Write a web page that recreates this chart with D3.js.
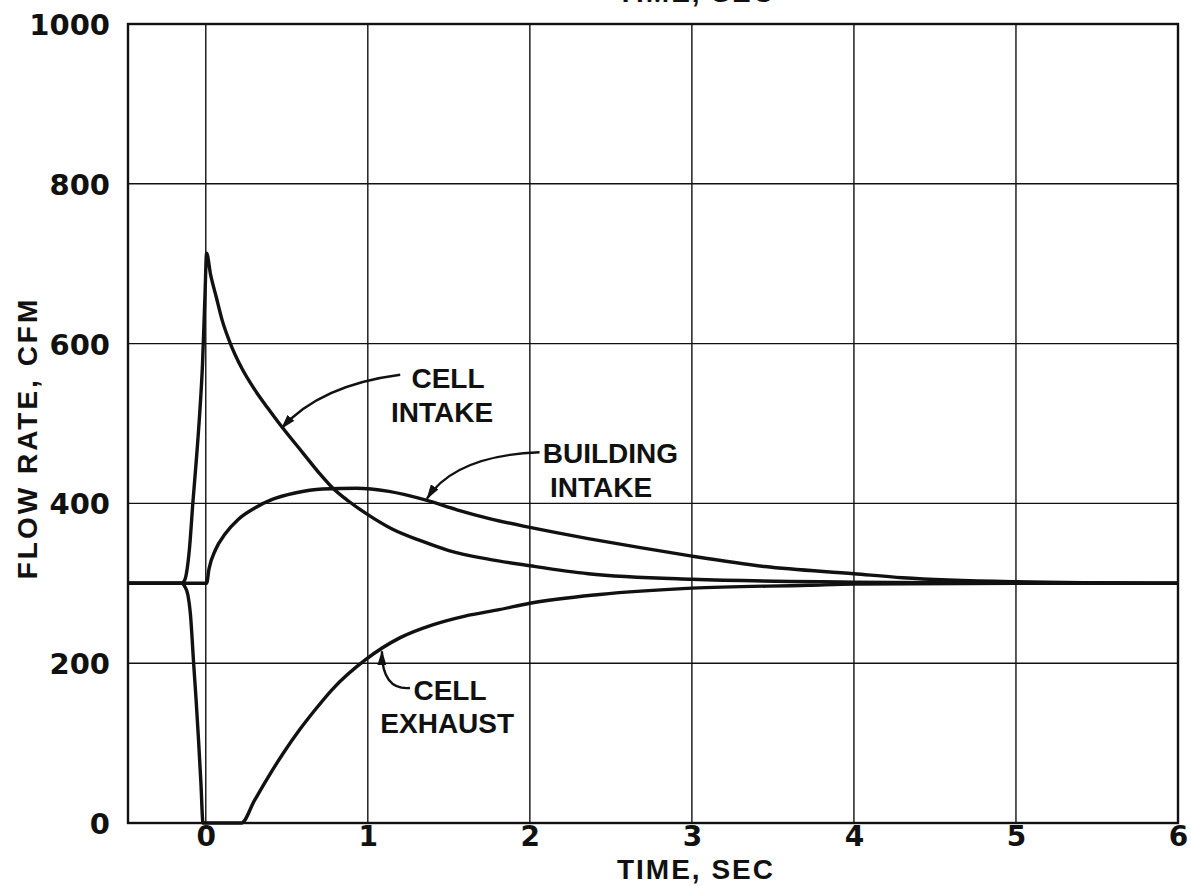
<!DOCTYPE html>
<html>
<head>
<meta charset="utf-8">
<script src="https://cdn.jsdelivr.net/npm/d3@7"></script>
<style>
  html, body { margin: 0; padding: 0; background: #fff; overflow: hidden; }
  text { font-family: 'Liberation Sans', Arial, sans-serif; font-weight: bold; fill: #111; }
  .tick text { font-family: 'DejaVu Sans', sans-serif; }
</style>
</head>
<body>
<div id="chartwrap"></div>
<script>
const WIDTH = 1191;
const HEIGHT = 886;

// data: [time (sec), flow rate (cfm)]
const cellIntake = [
  [-0.48, 300], [-0.3, 300], [-0.15, 300], [-0.13, 304], [-0.115, 318], [-0.1, 345],
  [-0.08, 400], [-0.06, 450], [-0.04, 505], [-0.02, 575], [-0.005, 660], [0.005, 713],
  [0.03, 686], [0.065, 658], [0.1, 630], [0.15, 601], [0.22, 570], [0.3, 543],
  [0.38, 520], [0.45, 501], [0.6, 463], [0.7, 438], [0.78, 420], [0.88, 403],
  [1.0, 386], [1.15, 368], [1.33, 353], [1.5, 341], [1.75, 330], [2.0, 322],
  [2.36, 312], [3.0, 305], [4.0, 301.5], [5.0, 300], [6.0, 300]
];

const buildingIntake = [
  [-0.48, 300], [0.005, 300], [0.02, 318], [0.06, 342], [0.12, 362], [0.2, 380],
  [0.3, 394], [0.41, 405], [0.55, 413], [0.72, 418], [0.93, 419], [1.13, 415],
  [1.36, 404], [1.55, 392], [1.75, 381], [2.0, 370], [2.36, 356], [2.7, 344],
  [3.0, 334], [3.45, 321], [4.0, 312], [4.3, 307], [5.0, 302], [6.0, 300]
];

const cellExhaust = [
  [-0.48, 300], [-0.15, 300], [-0.13, 296], [-0.11, 285], [-0.095, 262], [-0.075, 200],
  [-0.06, 155], [-0.045, 105], [-0.03, 50], [-0.017, 0], [0.22, 0], [0.3, 28],
  [0.375, 54], [0.48, 88], [0.58, 117], [0.68, 143], [0.78, 167], [0.99, 205],
  [1.2, 232], [1.4, 248], [1.6, 259], [1.81, 267], [2.0, 275], [2.43, 286],
  [3.0, 294], [3.72, 297.5], [4.0, 299], [5.0, 300], [6.0, 300]
];

const xTicks = [0, 1, 2, 3, 4, 5, 6];
const yTicks = [0, 200, 400, 600, 800, 1000];

// curve labels: [time, flow, text]
const labels = [
  [1.495, 544, 'CELL'], [1.458, 502, 'INTAKE'],
  [2.497, 451, 'BUILDING'], [2.44, 408, 'INTAKE'],
  [1.507, 154, 'CELL'], [1.49, 113, 'EXHAUST']
];

// leader arrows: start, control, tip (time, flow)
const arrows = [
  [[1.2, 561], [0.705, 548], [0.468, 494]],
  [[2.06, 464], [1.54, 460], [1.365, 406]],
  [[1.26, 169], [1.087, 166], [1.087, 215]]
];

const chart = { left: 128, right: 1178, top: 24, bottom: 823 };

const x = d3.scaleLinear().domain([-0.48, 6]).range([chart.left, chart.right]);
const y = d3.scaleLinear().domain([0, 1000]).range([chart.bottom, chart.top]);

const svg = d3.select('#chartwrap')
  .append('svg')
  .attr('width', WIDTH)
  .attr('height', HEIGHT)
  .style('background-color', '#fff');

svg.append('defs')
  .append('marker')
  .attr('id', 'head')
  .attr('viewBox', '0 0 15 9')
  .attr('refX', 14)
  .attr('refY', 4.5)
  .attr('markerWidth', 15)
  .attr('markerHeight', 9)
  .attr('markerUnits', 'userSpaceOnUse')
  .attr('orient', 'auto')
  .append('path')
  .attr('d', 'M0,0 L15,4.5 L0,9 Z')
  .attr('fill', '#111');

// grid
svg.append('g')
  .selectAll('line')
  .data(xTicks.slice(0, -1))
  .join('line')
  .attr('x1', d => x(d)).attr('x2', d => x(d))
  .attr('y1', y(0)).attr('y2', y(1000))
  .attr('stroke', '#111').attr('stroke-width', 1.4);

svg.append('g')
  .selectAll('line')
  .data(yTicks.slice(1, -1))
  .join('line')
  .attr('x1', x(-0.48)).attr('x2', x(6))
  .attr('y1', d => y(d)).attr('y2', d => y(d))
  .attr('stroke', '#111').attr('stroke-width', 1.4);

// frame
svg.append('rect')
  .attr('x', x(-0.48)).attr('y', y(1000))
  .attr('width', x(6) - x(-0.48)).attr('height', y(0) - y(1000))
  .attr('fill', 'none').attr('stroke', '#111').attr('stroke-width', 2.4);

// axes
const xAxis = d3.axisBottom(x).tickValues(xTicks).tickFormat(d3.format('d')).tickSize(0).tickPadding(3);
const yAxis = d3.axisLeft(y).tickValues(yTicks).tickFormat(d3.format('d')).tickSize(0).tickPadding(18);

svg.append('g')
  .attr('transform', `translate(0,${chart.bottom})`)
  .call(xAxis)
  .call(g => g.select('.domain').remove())
  .selectAll('text').style('font-size', '28px').attr('fill', '#111');

svg.append('g')
  .attr('transform', `translate(${chart.left},0)`)
  .call(yAxis)
  .call(g => g.select('.domain').remove())
  .selectAll('text').style('font-size', '29px').attr('fill', '#111').attr('dy', '0.36em');

svg.append('text')
  .attr('x', 696).attr('y', 879)
  .attr('text-anchor', 'middle')
  .style('font-size', '28px')
  .style('letter-spacing', '2px')
  .text('TIME, SEC');

// repeated caption, cut by the top edge as in the scan
svg.append('text')
  .attr('x', 696).attr('y', 2)
  .attr('text-anchor', 'middle')
  .style('font-size', '28px')
  .style('letter-spacing', '2px')
  .text('TIME, SEC');

svg.append('text')
  .attr('transform', 'translate(37,438) rotate(-90)')
  .attr('text-anchor', 'middle')
  .style('font-size', '28px')
  .style('letter-spacing', '3px')
  .text('FLOW RATE, CFM');

// curves
const line = d3.line()
  .x(d => x(d[0]))
  .y(d => y(d[1]))
  .curve(d3.curveMonotoneX);

svg.append('g')
  .selectAll('path')
  .data([cellExhaust, buildingIntake, cellIntake])
  .join('path')
  .attr('d', line)
  .attr('fill', 'none')
  .attr('stroke', '#111')
  .attr('stroke-width', 3.4)
  .attr('stroke-linejoin', 'round');

// labels and leaders
svg.append('g')
  .selectAll('text')
  .data(labels)
  .join('text')
  .attr('x', d => x(d[0]))
  .attr('y', d => y(d[1]))
  .attr('text-anchor', 'middle')
  .style('font-size', '28px')
  .text(d => d[2]);

svg.append('g')
  .selectAll('path')
  .data(arrows)
  .join('path')
  .attr('d', d => `M${x(d[0][0])},${y(d[0][1])} Q${x(d[1][0])},${y(d[1][1])} ${x(d[2][0])},${y(d[2][1])}`)
  .attr('fill', 'none')
  .attr('stroke', '#111')
  .attr('stroke-width', 2.4)
  .attr('marker-end', 'url(#head)');
</script>
</body>
</html>
